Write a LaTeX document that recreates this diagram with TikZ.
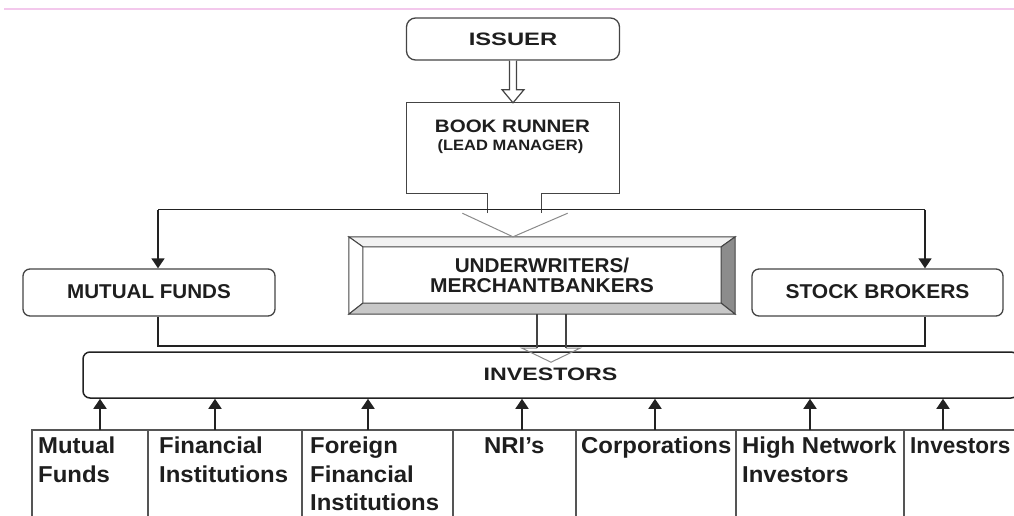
\documentclass[tikz,border=0pt]{standalone}
\usepackage{fontspec}
\setmainfont{Liberation Sans}
\usepackage{graphicx}
\usetikzlibrary{arrows.meta,calc}
\definecolor{txt}{HTML}{1E1E1E}
\definecolor{boxc}{HTML}{444444}
\definecolor{linec}{HTML}{222222}
\definecolor{gridc}{HTML}{555555}
\definecolor{hc}{HTML}{8A8A8A}
\definecolor{pinkc}{HTML}{F3C8EC}
\definecolor{bevtop}{HTML}{F2F2F2}
\definecolor{bevright}{HTML}{8C8C8C}
\definecolor{bevbottom}{HTML}{C8C8C8}
\newcommand{\wlab}[1]{\scalebox{1.04}[1]{#1}}
\begin{document}
\begin{tikzpicture}[x=1pt,y=-1pt,
  boxstyle/.style={draw=boxc, line width=1.3pt, rounded corners=7pt, inner sep=0pt, text=txt,
    font=\bfseries\fontsize{20}{20}\selectfont},
  conline/.style={draw=linec, line width=1.5pt},
  endtri/.style={-{Triangle[width=13pt,length=10pt]}},
  gridbox/.style={draw=gridc, line width=1.3pt, minimum height=100pt, inner sep=0pt},
  botlabel/.style={anchor=north west, inner sep=0pt, align=left, text=txt,
    font=\bfseries\fontsize{23}{28.5}\selectfont},
  hollowline/.style={draw=hc, line width=1pt},
  shaftline/.style={draw=boxc, line width=1.2pt},
  bevel/.style={draw=boxc, line width=1pt}
]
\useasboundingbox (0,0) rectangle (1014,515);
\clip (0,0) rectangle (1014,515);

% top pink rule
\draw[draw=pinkc, line width=2pt] (4,9) -- (1014,9);

% ISSUER
\node[boxstyle, rounded corners=9pt, minimum width=213pt, minimum height=42pt,
  font=\bfseries\fontsize{18}{18}\selectfont] (issuer) at (513,39)
  {\scalebox{1.32}[1]{ISSUER}};

% BOOK RUNNER
\node[minimum width=213pt, minimum height=90pt, inner sep=0pt] (book) at (513,148) {};
\node[anchor=base, inner sep=0pt, text=txt, font=\bfseries\fontsize{18}{18}\selectfont] (bk1) at (512.5,132)
  {\scalebox{1.14}[1]{BOOK RUNNER}};
\node[anchor=base, inner sep=0pt, text=txt, font=\bfseries\fontsize{15}{15}\selectfont] (bk2) at (510.5,150)
  {\scalebox{1.1}[1]{(LEAD MANAGER)}};
\draw[draw=boxc, line width=1.3pt]
  ($(book.south west)+(81,20)$) -- ($(book.south west)+(81,0)$) -- (book.south west)
  -- (book.north west) -- (book.north east) -- (book.south east)
  -- ($(book.south east)+(-78,0)$) -- ($(book.south east)+(-78,20)$);

% hollow arrow issuer -> book runner
\draw[shaftline, fill=white]
  ($(issuer.south)+(-3.5,0)$) -- ($(issuer.south)+(-3.5,29)$) -- ($(issuer.south)+(-11,29)$)
  -- (book.north) -- ($(issuer.south)+(11,29)$) -- ($(issuer.south)+(3.5,29)$) -- ($(issuer.south)+(3.5,0)$);

% UNDERWRITERS (bevelled frame)
\node[minimum width=386pt, minimum height=77pt, inner sep=0pt, align=center, text=txt,
  font=\bfseries\fontsize{20}{20}\selectfont] (under) at (542,275.5)
  {\scalebox{1.035}[1]{UNDERWRITERS/}\\\scalebox{1.05}[1]{MERCHANTBANKERS}};
\coordinate (uinw) at ($(under.north west)+(14,10)$);
\coordinate (uine) at ($(under.north east)+(-14,10)$);
\coordinate (uise) at ($(under.south east)+(-14,-11)$);
\coordinate (uisw) at ($(under.south west)+(14,-11)$);
\draw[bevel, fill=bevtop] (under.north west) -- (under.north east) -- (uine) -- (uinw) -- cycle;
\draw[bevel, fill=white] (under.north west) -- (uinw) -- (uisw) -- (under.south west) -- cycle;
\draw[bevel, fill=bevright] (under.north east) -- (under.south east) -- (uise) -- (uine) -- cycle;
\draw[bevel, fill=bevbottom] (under.south west) -- (under.south east) -- (uise) -- (uisw) -- cycle;

% hollow arrow book runner -> underwriters
\draw[hollowline] ($(book.south west)+(56,20)$) -- (under.north -| book.south) -- ($(book.south east)+(-52,20)$);

% MUTUAL FUNDS / STOCK BROKERS
\node[boxstyle, minimum width=252pt, minimum height=47pt] (mf) at (149,292.5)
  {\raisebox{2pt}{\scalebox{1.03}[1]{MUTUAL FUNDS}}};
\node[boxstyle, minimum width=251pt, minimum height=47pt] (sb) at (877.5,292.5)
  {\raisebox{2pt}{\scalebox{1.05}[1]{STOCK BROKERS}}};

% connectors from book runner level
\coordinate (hl) at (158,209.5);
\coordinate (hr) at (925,209.5);
\draw[conline] (hl) -- (hr);
\draw[conline, endtri] (hl) -- (hl |- mf.north);
\draw[conline, endtri] (hr) -- (hr |- sb.north);
\coordinate (ll) at (158,346);
\coordinate (lr) at (925,346);
\draw[conline] (hl |- mf.south) -- (ll) -- (lr) -- (hr |- sb.south);

% INVESTORS box
\node[draw=linec, line width=1.5pt, rounded corners=7pt, minimum width=935pt, minimum height=46pt,
  inner sep=0pt, text=txt, font=\bfseries\fontsize{18}{18}\selectfont] (inv) at (550.5,375)
  {\raisebox{2pt}{\scalebox{1.29}[1]{INVESTORS}}};

% hollow arrow underwriters -> investors
\draw[shaftline] ($(under.south)+(-5,0)$) -- ($(under.south)+(-5,34)$);
\draw[shaftline] ($(under.south)+(24,0)$) -- ($(under.south)+(24,34)$);
\draw[hollowline] ($(under.south)+(-5,34)$) -- ($(under.south)+(-20,34)$) -- ($(under.south)+(9,48)$)
  -- ($(under.south)+(38,34)$) -- ($(under.south)+(24,34)$);

% bottom boxes
\node[gridbox, minimum width=116pt] (b1) at (90,480) {};
\node[gridbox, minimum width=154pt] (b2) at (225,480) {};
\node[gridbox, minimum width=151pt] (b3) at (377.5,480) {};
\node[gridbox, minimum width=123pt] (b4) at (514.5,480) {};
\node[gridbox, minimum width=160pt] (b5) at (656,480) {};
\node[gridbox, minimum width=168pt] (b6) at (820,480) {};
\node[gridbox, minimum width=126pt] (b7) at (967,480) {};

\node[botlabel] (l1) at (38,437) {\wlab{Mutual}\\\wlab{Funds}};
\node[botlabel] (l2) at (159,437) {\wlab{Financial}\\\wlab{Institutions}};
\node[botlabel] (l3) at (310,437) {\wlab{Foreign}\\\wlab{Financial}\\\wlab{Institutions}};
\node[botlabel] (l4) at (484,437) {\wlab{NRI’s}};
\node[botlabel] (l5) at (581,437) {\wlab{Corporations}};
\node[botlabel] (l6) at (742,437) {\wlab{High Network}\\\wlab{Investors}};
\node[botlabel] (l7) at (910,437) {\scalebox{0.98}[1]{Investors}};

% up arrows into INVESTORS
\foreach \n/\x in {1/100,2/215,3/368,4/522,5/655,6/810,7/943}{
  \coordinate (a\n) at (\x,430);
  \draw[conline, endtri] (a\n) -- (a\n |- inv.south);
}
\end{tikzpicture}
\end{document}
